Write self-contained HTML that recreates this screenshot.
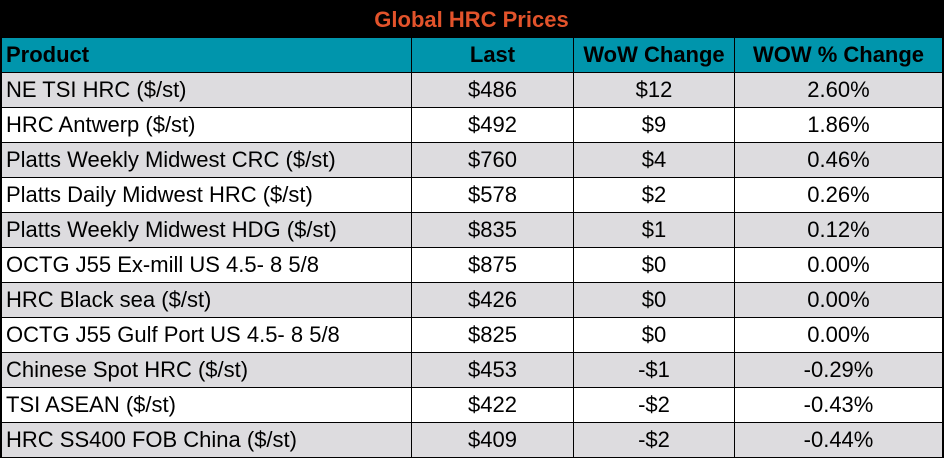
<!DOCTYPE html>
<html><head><meta charset="utf-8"><style>
*{margin:0;padding:0;box-sizing:border-box}
body{width:944px;height:458px;background:#fff;overflow:hidden;font-family:"Liberation Sans",sans-serif}
#wrap{position:absolute;left:0;top:0;width:944px;height:458px;border:1px solid #000;border-right:2px solid #000}
.title{height:36px;background:#000;color:#e2532b;font-weight:bold;font-size:22px;text-align:center;line-height:38px}
table{border-collapse:collapse;table-layout:fixed;width:941px}
td{border:1px solid #000;height:35px;font-size:22px;padding:0 4px;white-space:nowrap;overflow:hidden;color:#000}
tr.h td{background:#0095ac;font-weight:bold;font-size:22px}
tr.g td{background:#dddcdf}
.c{text-align:center}
</style></head><body>
<div id="wrap">
<div class="title">Global HRC Prices</div>
<table>
<colgroup><col style="width:410px"><col style="width:162px"><col style="width:161px"><col style="width:208px"></colgroup>
<tr class="h"><td>Product</td><td class="c">Last</td><td class="c">WoW Change</td><td class="c">WOW % Change</td></tr>
<tr class="g"><td>NE TSI HRC ($/st)</td><td class="c">$486</td><td class="c">$12</td><td class="c">2.60%</td></tr>
<tr><td>HRC Antwerp ($/st)</td><td class="c">$492</td><td class="c">$9</td><td class="c">1.86%</td></tr>
<tr class="g"><td>Platts Weekly Midwest CRC ($/st)</td><td class="c">$760</td><td class="c">$4</td><td class="c">0.46%</td></tr>
<tr><td>Platts Daily Midwest HRC ($/st)</td><td class="c">$578</td><td class="c">$2</td><td class="c">0.26%</td></tr>
<tr class="g"><td>Platts Weekly Midwest HDG ($/st)</td><td class="c">$835</td><td class="c">$1</td><td class="c">0.12%</td></tr>
<tr><td>OCTG J55 Ex-mill US 4.5- 8 5/8</td><td class="c">$875</td><td class="c">$0</td><td class="c">0.00%</td></tr>
<tr class="g"><td>HRC Black sea ($/st)</td><td class="c">$426</td><td class="c">$0</td><td class="c">0.00%</td></tr>
<tr><td>OCTG J55 Gulf Port US 4.5- 8 5/8</td><td class="c">$825</td><td class="c">$0</td><td class="c">0.00%</td></tr>
<tr class="g"><td>Chinese Spot HRC ($/st)</td><td class="c">$453</td><td class="c">-$1</td><td class="c">-0.29%</td></tr>
<tr><td>TSI ASEAN ($/st)</td><td class="c">$422</td><td class="c">-$2</td><td class="c">-0.43%</td></tr>
<tr class="g"><td>HRC SS400 FOB China ($/st)</td><td class="c">$409</td><td class="c">-$2</td><td class="c">-0.44%</td></tr>
</table>
</div>
</body></html>
